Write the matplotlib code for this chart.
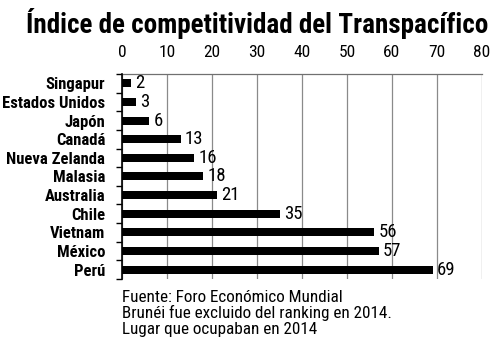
import numpy as np
import matplotlib
matplotlib.use('Agg')
import matplotlib.pyplot as plt

# Datos
paises = ['Singapur', 'Estados Unidos', 'Japón', 'Canadá', 'Nueva Zelanda', 'Malasia',
          'Australia', 'Chile', 'Vietnam', 'México', 'Perú']
lugar = [2, 3, 6, 13, 16, 18, 21, 35, 56, 57, 69]
xticks = [0, 10, 20, 30, 40, 50, 60, 70, 80]

plt.rcParams['font.family'] = ['Roboto Condensed', 'DejaVu Sans']

fig = plt.figure(figsize=(5, 3.49), dpi=100)
ax = fig.add_axes([0.244, 0.2006, 0.72, 0.5874])

pos = np.arange(len(paises))
ax.barh(pos, lugar, height=0.43, color='black', zorder=3)

# etiquetas de valor
for p, v in zip(pos, lugar):
    ax.text(v + 1.0, p, str(v), va='center', ha='left', fontsize=13.5, zorder=4)

ax.set_ylim(len(paises) - 0.5, -0.5)
ax.set_xlim(0, 80)
ax.set_yticks(pos)
ax.set_yticklabels(paises, fontsize=12, fontweight='bold')
ax.set_yticks(np.arange(-0.5, len(paises), 1), minor=True)
ax.tick_params(axis='y', which='major', length=0, pad=12)
ax.tick_params(axis='y', which='minor', length=4, width=1, direction='out', color='black')

ax.xaxis.tick_top()
ax.set_xticks(xticks)
ax.set_xticklabels([str(t) for t in xticks], fontsize=12.5)
ax.tick_params(axis='x', length=0, pad=10)
ax.xaxis.grid(True, color='#8a8a8a', linewidth=0.9, zorder=0)

ax.spines['top'].set_color('#707070')
ax.spines['top'].set_linewidth(0.9)
ax.spines['right'].set_visible(False)
ax.spines['bottom'].set_visible(False)
ax.spines['left'].set_color('black')
ax.spines['left'].set_linewidth(1.2)
ax.spines['left'].set_zorder(5)

fig.text(0.515, 1 - 33 / 349, 'Índice de competitividad del Transpacífico', ha='center', va='baseline',
         fontsize=19.5, fontweight='bold')
fig.text(0.244, 0.17, 'Fuente: Foro Económico Mundial\nBrunéi fue excluido del ranking en 2014.\nLugar que ocupaban en 2014',
         ha='left', va='top', fontsize=12.3, linespacing=1.05)

fig.savefig('out.png', dpi=100)
